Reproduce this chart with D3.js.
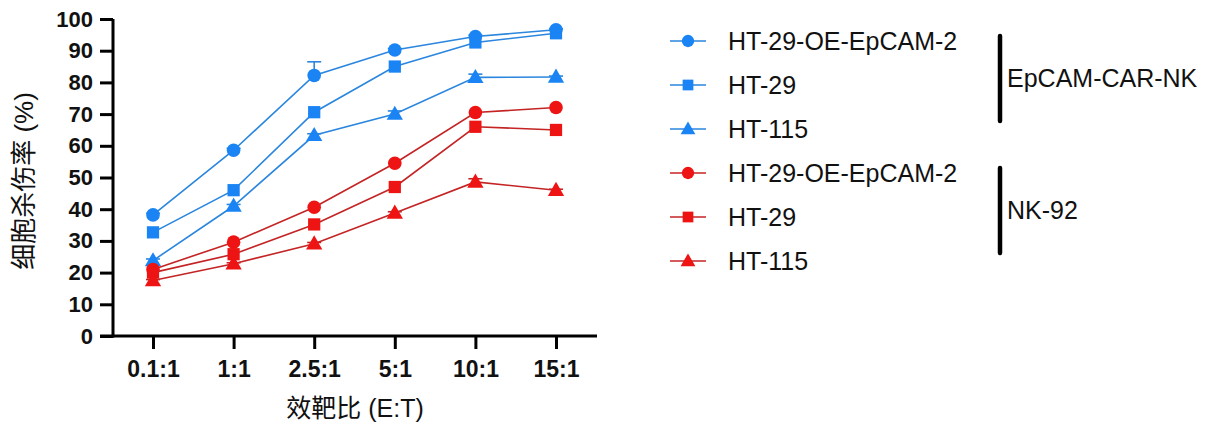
<!DOCTYPE html>
<html>
<head>
<meta charset="utf-8">
<script src="https://cdn.jsdelivr.net/npm/d3@7"></script>
<style>
  body { margin: 0; background: #fff; }
  svg { font-family: Arial, "Liberation Sans", "Noto Sans CJK SC", sans-serif; }
</style>
</head>
<body>
<div id="chart"></div>
<script>
// Data
const ratios = ["0.1:1", "1:1", "2.5:1", "5:1", "10:1", "15:1"];
const yTicks = [0, 10, 20, 30, 40, 50, 60, 70, 80, 90, 100];

const carOE = [38.2, 58.6, 82.2, 90.2, 94.5, 96.6];
const carHT29 = [32.7, 46.0, 70.6, 85.0, 92.6, 95.5];
const carHT115 = [23.8, 41.0, 63.3, 70.0, 81.6, 81.7];
const nkOE = [21.0, 29.6, 40.6, 54.5, 70.5, 72.1];
const nkHT29 = [20.0, 25.8, 35.2, 47.0, 66.0, 65.0];
const nkHT115 = [17.5, 22.8, 29.1, 38.8, 48.6, 46.0];

// upper error (SD) per point
const carOEErr = [0.5, 0.6, 4.3, 0.5, 0.4, 0.3];
const carHT115Err = [0.5, 0.5, 0.5, 1.0, 1.0, 0.3];
const nkHT115Err = [0.3, 0.3, 0.4, 0.4, 1.0, 0.3];

const blue = "#1a84f4", blueLine = "#2a86de";
const red = "#ee1414", redLine = "#c42424";

const series = [
  { name: "HT-29-OE-EpCAM-2", values: carOE, err: carOEErr, shape: d3.symbolCircle, color: blue, line: blueLine },
  { name: "HT-29", values: carHT29, err: null, shape: d3.symbolSquare, color: blue, line: blueLine },
  { name: "HT-115", values: carHT115, err: carHT115Err, shape: d3.symbolTriangle, color: blue, line: blueLine },
  { name: "HT-29-OE-EpCAM-2", values: nkOE, err: null, shape: d3.symbolCircle, color: red, line: redLine },
  { name: "HT-29", values: nkHT29, err: null, shape: d3.symbolSquare, color: red, line: redLine },
  { name: "HT-115", values: nkHT115, err: nkHT115Err, shape: d3.symbolTriangle, color: red, line: redLine }
];
const groups = [
  { name: "EpCAM-CAR-NK", from: 0, to: 2 },
  { name: "NK-92", from: 3, to: 5 }
];

const W = 1218, H = 425;
const svg = d3.select("#chart").append("svg")
  .attr("width", W).attr("height", H);

const plot = { left: 113, right: 597, top: 19, bottom: 336 };

const x = d3.scalePoint()
  .domain(ratios)
  .range([153, 556]);
const y = d3.scaleLinear()
  .domain([0, 100])
  .range([plot.bottom, plot.top]);

// Y axis
const yAxis = svg.append("g")
  .attr("transform", `translate(${plot.left},0)`)
  .call(d3.axisLeft(y).tickValues(yTicks).tickSize(13).tickPadding(7).tickSizeOuter(0));
yAxis.select(".domain").attr("stroke", "#000").attr("stroke-width", 3)
  .attr("d", `M0,${plot.bottom + 1.5}V${plot.top}`);
yAxis.selectAll(".tick line").attr("stroke", "#000").attr("stroke-width", 3);
yAxis.selectAll(".tick text")
  .attr("fill", "#111").style("font-size", "22px").style("font-weight", "bold");

// X axis
const xAxis = svg.append("g")
  .attr("transform", `translate(0,${plot.bottom})`)
  .call(d3.axisBottom(x).tickSize(13).tickPadding(12).tickSizeOuter(0));
xAxis.select(".domain").attr("stroke", "#000").attr("stroke-width", 3)
  .attr("d", `M${plot.left - 13},0H${plot.right}`);
xAxis.selectAll(".tick line").attr("stroke", "#000").attr("stroke-width", 3);
xAxis.selectAll(".tick text")
  .attr("fill", "#111").style("font-size", "23px").style("font-weight", "bold");

// Axis titles
svg.append("text")
  .attr("x", 355).attr("y", 417)
  .attr("text-anchor", "middle")
  .style("font-size", "25px")
  .attr("fill", "#111")
  .text("效靶比 (E:T)");

svg.append("text")
  .attr("transform", "translate(33,181) rotate(-90)")
  .attr("text-anchor", "middle")
  .style("font-size", "26px")
  .attr("fill", "#111")
  .text("细胞杀伤率 (%)");

// Lines, error bars and markers
const line = d3.line()
  .x((d, i) => x(ratios[i]))
  .y(d => y(d));

series.forEach(s => {
  const g = svg.append("g");
  g.append("path")
    .datum(s.values)
    .attr("fill", "none")
    .attr("stroke", s.line)
    .attr("stroke-width", 1.6)
    .attr("d", line);

  if (s.err) {
    const eb = g.selectAll(".err")
      .data(s.values.map((v, i) => ({ v, e: s.err[i], r: ratios[i] })))
      .join("g");
    eb.append("line")
      .attr("x1", d => x(d.r)).attr("x2", d => x(d.r))
      .attr("y1", d => y(d.v)).attr("y2", d => y(d.v + d.e))
      .attr("stroke", s.line).attr("stroke-width", 1.6);
    eb.append("line")
      .attr("x1", d => x(d.r) - 7).attr("x2", d => x(d.r) + 7)
      .attr("y1", d => y(d.v + d.e)).attr("y2", d => y(d.v + d.e))
      .attr("stroke", s.line).attr("stroke-width", 1.6);
  }

  const size = s.shape === d3.symbolTriangle ? 115 : (s.shape === d3.symbolSquare ? 150 : 145);
  g.selectAll(".pt")
    .data(s.values)
    .join("path")
    .attr("transform", (d, i) => `translate(${x(ratios[i])},${y(d) + (s.shape === d3.symbolTriangle ? 1 : 0)})`)
    .attr("d", d3.symbol().type(s.shape).size(size))
    .attr("fill", s.color);
});

// Legend
const legY = d3.scalePoint()
  .domain(d3.range(series.length))
  .range([41, 261]);

const leg = svg.append("g");
series.forEach((s, i) => {
  const yy = legY(i);
  leg.append("line")
    .attr("x1", 670).attr("x2", 706)
    .attr("y1", yy).attr("y2", yy)
    .attr("stroke", s.line).attr("stroke-width", 1.6);
  const size = s.shape === d3.symbolTriangle ? 95 : (s.shape === d3.symbolSquare ? 115 : 120);
  leg.append("path")
    .attr("transform", `translate(688,${yy + (s.shape === d3.symbolTriangle ? 1 : 0)})`)
    .attr("d", d3.symbol().type(s.shape).size(size))
    .attr("fill", s.color);
  leg.append("text")
    .attr("x", 728).attr("y", yy)
    .attr("dy", "0.36em")
    .style("font-size", "25px")
    .attr("fill", "#111")
    .text(s.name);
});

groups.forEach(gr => {
  const y0 = legY(gr.from) - 5, y1 = legY(gr.to) - 8;
  leg.append("line")
    .attr("x1", 1000).attr("x2", 1000)
    .attr("y1", y0).attr("y2", y1)
    .attr("stroke", "#000").attr("stroke-width", 4.5)
    .attr("stroke-linecap", "round");
  leg.append("text")
    .attr("x", 1007).attr("y", (legY(gr.from) + legY(gr.to)) / 2 - 7)
    .attr("dy", "0.36em")
    .style("font-size", "25px")
    .attr("fill", "#111")
    .text(gr.name);
});
</script>
</body>
</html>
